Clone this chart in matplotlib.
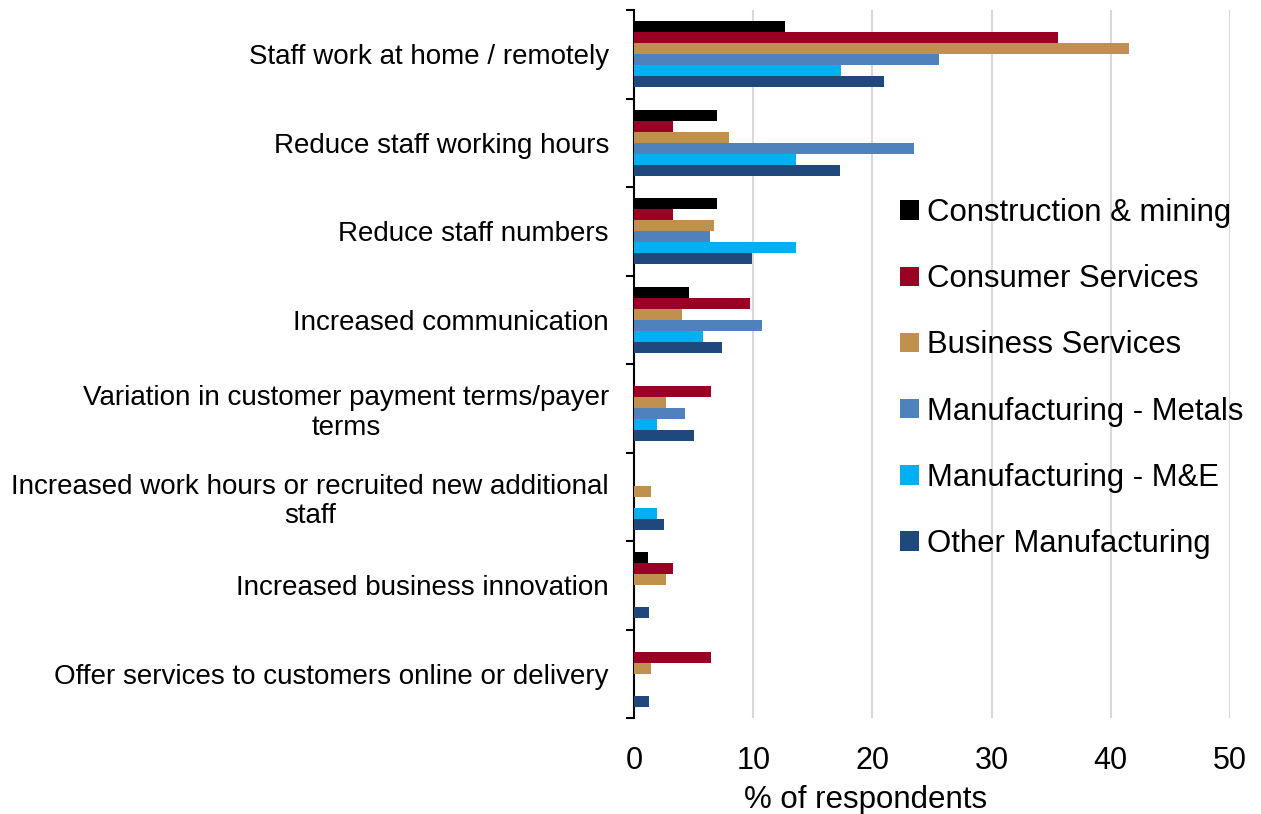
import numpy as np
import matplotlib.pyplot as plt

plt.rcParams['font.family'] = ['Liberation Sans', 'DejaVu Sans']

# categories, top to bottom
categories = [
    'Staff work at home / remotely',
    'Reduce staff working hours',
    'Reduce staff numbers',
    'Increased communication',
    'Variation in customer payment terms/payer\nterms',
    'Increased work hours or recruited new additional\nstaff',
    'Increased business innovation',
    'Offer services to customers online or delivery',
]

# % of respondents per sector, same order as categories
construction = [12.7, 7.0, 7.0, 4.6, 0.0, 0.0, 1.2, 0.0]
consumer = [35.6, 3.3, 3.3, 9.7, 6.5, 0.0, 3.3, 6.5]
business = [41.5, 8.0, 6.7, 4.0, 2.7, 1.4, 2.7, 1.4]
metals = [25.6, 23.5, 6.4, 10.7, 4.3, 0.0, 0.0, 0.0]
m_and_e = [17.4, 13.6, 13.6, 5.8, 1.9, 1.9, 0.0, 0.0]
other = [21.0, 17.3, 9.9, 7.4, 5.0, 2.5, 1.3, 1.3]

series = [construction, consumer, business, metals, m_and_e, other]
names = ['Construction & mining', 'Consumer Services', 'Business Services',
         'Manufacturing - Metals', 'Manufacturing - M&E', 'Other Manufacturing']
colors = ['#000000', '#990024', '#C0904F', '#4F81BD', '#00B0F0', '#1F497D']

fig = plt.figure(figsize=(12.61, 8.14), dpi=100)
ax = fig.add_axes([634/1261, 1 - 718/814, (1230 - 634)/1261, (718 - 10)/814])

y = np.arange(len(categories))
h = 0.124
for j, (vals, name, c) in enumerate(zip(series, names, colors)):
    ax.barh(y + (j - 2.5) * h, vals, height=h, color=c, label=name, zorder=3)

ax.set_xlim(0, 50)
ax.set_ylim(len(categories) - 0.5, -0.5)
ax.set_xticks(range(0, 51, 10))
ax.xaxis.grid(True, color='#d9d9d9', linewidth=1.5, zorder=0)
ax.tick_params(axis='x', length=0, labelsize=22, pad=20)

ax.set_yticks(y)
ax.set_yticklabels(categories)
ax.set_yticks(np.arange(-0.5, len(categories)), minor=True)
ax.tick_params(axis='y', which='major', length=0, labelsize=20, pad=18)
ax.tick_params(axis='y', which='minor', length=6, width=1.5, color='black')
for lab in ax.get_yticklabels():
    lab.set_multialignment('center')
    lab.set_linespacing(1.17)

for s in ['top', 'right', 'bottom']:
    ax.spines[s].set_visible(False)
ax.spines['left'].set_linewidth(1.5)

ax.set_xlabel('% of respondents', fontsize=22.5)
ax.xaxis.set_label_coords(0.389, -0.095)

ax.legend(loc='center left', bbox_to_anchor=(0.704, 0.535), bbox_transform=fig.transFigure,
          frameon=False, fontsize=22.4, handlelength=0.6, handleheight=0.6,
          handletextpad=0.25, labelspacing=1.16, borderaxespad=0)

fig.savefig('out.png', dpi=100)
